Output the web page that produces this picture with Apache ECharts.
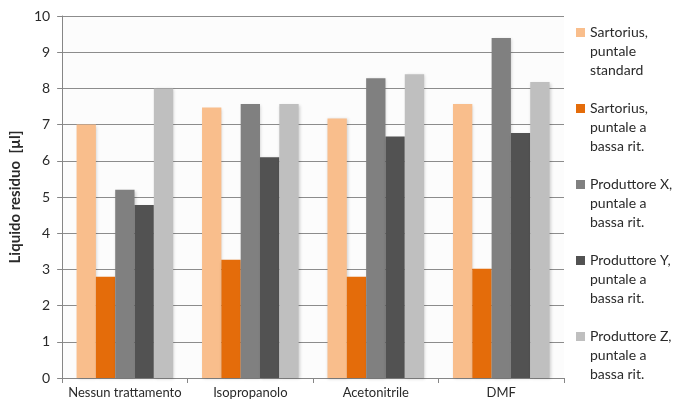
<!DOCTYPE html>
<html>
<head>
<meta charset="utf-8">
<script src="https://cdn.jsdelivr.net/npm/echarts@6/dist/echarts.min.js"></script>
<style>
  html, body { margin: 0; padding: 0; background: #ffffff; }
  #chart { width: 674px; height: 403px; }
</style>
</head>
<body>
<div id="chart"></div>
<script>
// Trattamenti (categorie sull'asse x)
const categories = ['Nessun trattamento', 'Isopropanolo', 'Acetonitrile', 'DMF'];

// Tipi di puntale (serie)
const seriesNames = [
  'Sartorius,\npuntale\nstandard',
  'Sartorius,\npuntale a\nbassa rit.',
  'Produttore X,\npuntale a\nbassa rit.',
  'Produttore Y,\npuntale a\nbassa rit.',
  'Produttore Z,\npuntale a\nbassa rit.'
];

// Liquido residuo [µl] per ciascun puntale
const sartoriusStandard = [7.0, 7.47, 7.17, 7.57];
const sartoriusLowRet   = [2.8, 3.27, 2.8, 3.02];
const produttoreX       = [5.2, 7.57, 8.28, 9.39];
const produttoreY       = [4.78, 6.1, 6.67, 6.77];
const produttoreZ       = [8.0, 7.57, 8.39, 8.18];

// Scala dell'asse y
const yMin = 0;
const yMax = 10;
const yStep = 1;

const seriesValues = [sartoriusStandard, sartoriusLowRet, produttoreX, produttoreY, produttoreZ];
const colors = ['#F9BE8C', '#E46C0A', '#808080', '#525252', '#BFBFBF'];

const FONT = 'Lato, "Open Sans", sans-serif';
const TEXT = '#2a2a2a';

// Legend marker: a square near the top of a tall, mostly empty box,
// so it lines up with the first line of the three-line labels.
const legendIcon = 'path://M0,0h0.01v0.01h-0.01z M0,5h9v9h-9z M0,57h0.01v0.01h-0.01z';

const chart = echarts.init(document.getElementById('chart'), null, { renderer: 'canvas' });

chart.setOption({
  animation: false,
  backgroundColor: '#ffffff',
  textStyle: { fontFamily: FONT, color: TEXT },
  grid: {
    left: 58, top: 16, right: 110, bottom: 25,
    show: true, backgroundColor: '#fcfcfc', borderWidth: 0
  },
  legend: {
    orient: 'vertical',
    left: 576,
    top: 23,
    padding: 0,
    itemWidth: 9,
    itemHeight: 57,
    itemGap: 19,
    icon: legendIcon,
    textStyle: { fontFamily: FONT, fontSize: 14, color: TEXT, lineHeight: 19 },
    data: seriesNames
  },
  xAxis: {
    type: 'category',
    data: categories,
    axisLine: { show: true, lineStyle: { color: '#868686', width: 1 } },
    axisTick: { show: true, length: 5, lineStyle: { color: '#868686' } },
    axisLabel: { interval: 0, fontFamily: FONT, fontSize: 13, color: TEXT, margin: 8 },
    splitLine: { show: false }
  },
  yAxis: {
    type: 'value',
    min: yMin, max: yMax, interval: yStep,
    name: 'Liquido residuo  [µl]',
    nameLocation: 'middle',
    nameGap: 34,
    nameTextStyle: { fontFamily: FONT, fontSize: 15, fontWeight: 'bold', color: TEXT },
    axisLine: { show: true, lineStyle: { color: '#868686', width: 1 } },
    axisTick: { show: true, length: 5, lineStyle: { color: '#868686' } },
    axisLabel: { fontFamily: FONT, fontSize: 14, color: TEXT, margin: 12 },
    splitLine: { show: true, lineStyle: { color: '#8c8c8c', width: 1 } }
  },
  series: seriesNames.map((name, i) => ({
    name: name,
    type: 'bar',
    data: seriesValues[i],
    barGap: '0%',
    barCategoryGap: '23%',
    itemStyle: {
      color: colors[i],
      shadowColor: 'rgba(0,0,0,0.18)',
      shadowBlur: 3,
      shadowOffsetX: 1,
      shadowOffsetY: 1
    }
  }))
});
</script>
</body>
</html>
